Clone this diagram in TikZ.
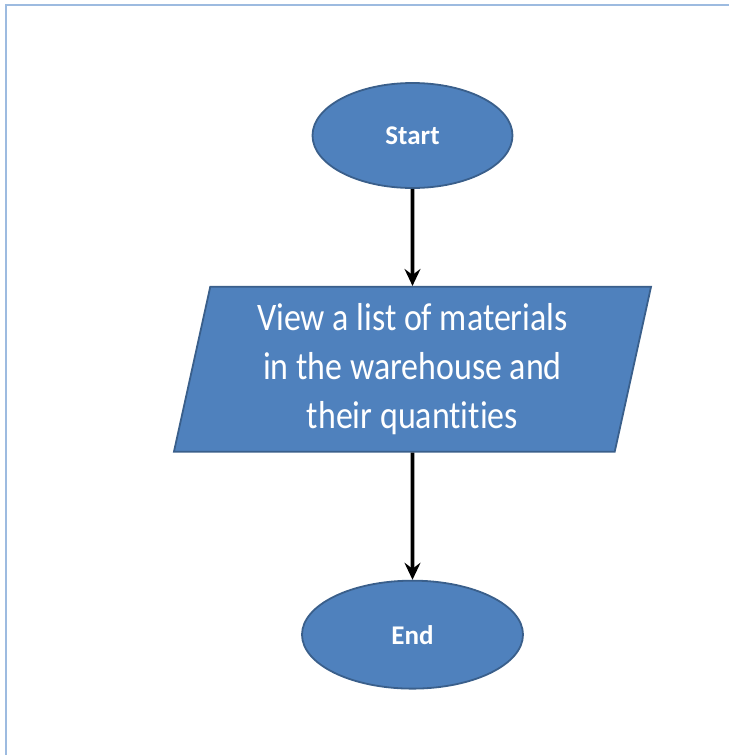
\documentclass[tikz,border=0pt]{standalone}
\usepackage{fontspec}
\setmainfont[Ligatures=NoCommon]{Carlito}
\newfontfamily\boxfont[FakeStretch=0.87, Ligatures=NoCommon]{Carlito}
\usetikzlibrary{positioning,arrows.meta,shapes.geometric}
\definecolor{flowblue}{HTML}{4F81BD}
\definecolor{flowline}{HTML}{3A5F8B}
\definecolor{framblue}{HTML}{9DBBE0}

\begin{document}
\begin{tikzpicture}[x=1pt, y=-1pt,
  term/.style={ellipse, draw=flowline, line width=1.8pt, fill=flowblue,
               text=white, inner sep=0pt, font=\fontsize{27}{30}\selectfont\bfseries},
  io/.style={trapezium, trapezium left angle=78, trapezium right angle=102,
             trapezium stretches=true, draw=flowline, line width=1.8pt, fill=flowblue,
             text=white, align=center, inner sep=0pt,
             font=\boxfont\fontsize{39}{49}\selectfont},
  arr/.style={-{Stealth[length=17pt, width=16pt, inset=6pt]}, line width=3.6pt}]
  \useasboundingbox (0,0) rectangle (729,755);
  \draw[framblue, line width=2.5pt] (6,755) -- (6,5) -- (729,5);
  \node[term, minimum width=200pt, minimum height=105pt] (start) at (412.5,135.5) {Start};
  \node[io, minimum width=479pt, minimum height=165pt, below=97pt of start] (view)
       {View a list of materials\\in the warehouse and\\their quantities};
  \node[term, minimum width=221pt, minimum height=108pt, below=127pt of view] (end) {End};
  \draw[arr] (start) -- (view);
  \draw[arr] (view) -- (end);
\end{tikzpicture}
\end{document}
